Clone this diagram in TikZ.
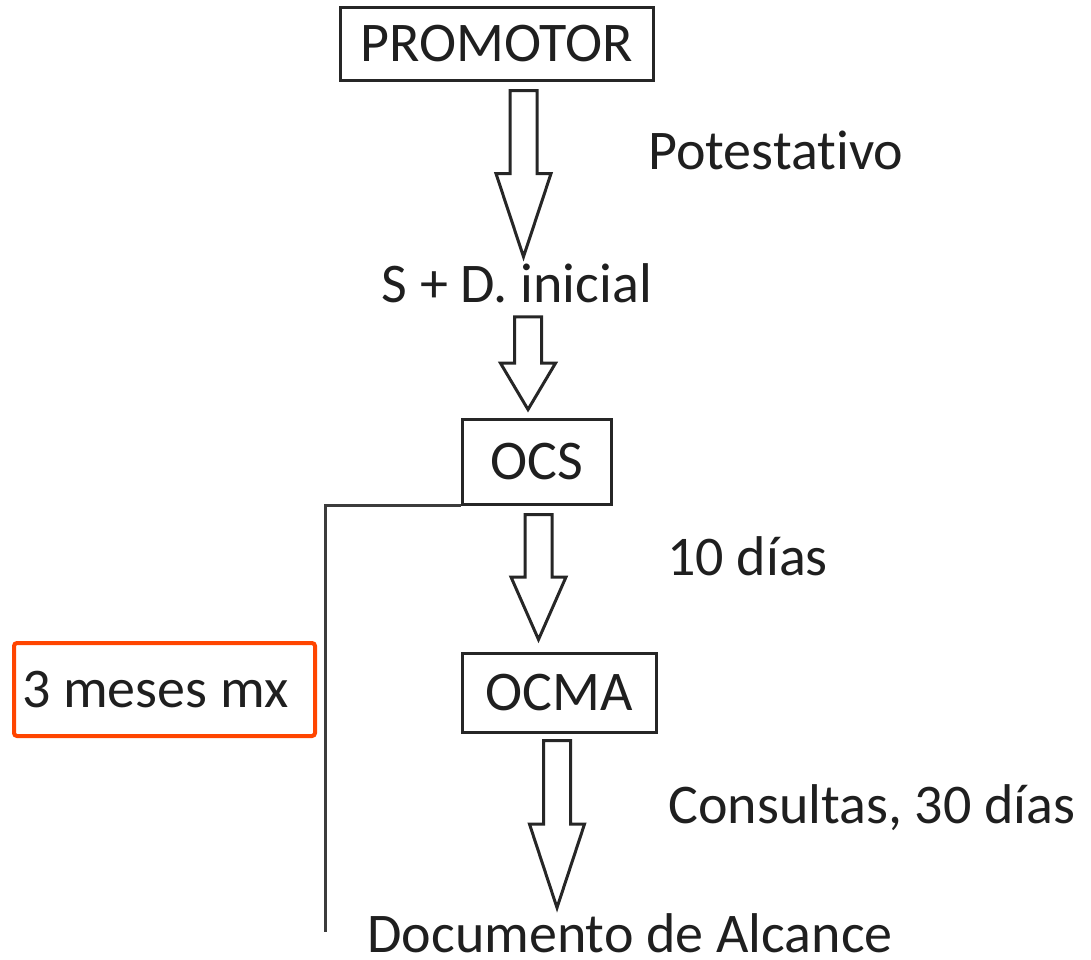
\documentclass[tikz,border=0pt]{standalone}
\usepackage{fontspec}
\setmainfont{Carlito}[Ligatures=NoCommon]
\usetikzlibrary{calc,positioning}
\definecolor{ink}{HTML}{1F1F1F}
\definecolor{frame}{HTML}{262626}
\definecolor{alert}{HTML}{FF4500}
\tikzset{
  stage/.style={draw=frame,line width=1.5pt,inner sep=0pt,font=\fontsize{28}{34}\selectfont,text=ink},
  note/.style={inner sep=0pt,font=\fontsize{28}{34}\selectfont,text=ink},
  limit/.style={draw=alert,line width=2pt,rounded corners=1.5pt,inner xsep=4pt,inner ysep=0pt,font=\fontsize{28}{34}\selectfont,text=ink},
  timeline/.style={draw=frame!90,line width=1.5pt},
  fatarrow/.style={draw=frame,line width=1.5pt,line join=miter,fill=white,
    to path={let \p1=(\tikztostart), \p2=(\tikztotarget),
      \p3=($(\tikztostart)!0.5!(\tikztotarget)$) in
      (\x1-6.75pt,\y1) -- (\x1-6.75pt,\y3) -- (\x1-13.75pt,\y3) -- (\x1,\y2)
      -- (\x1+13.75pt,\y3) -- (\x1+6.75pt,\y3) -- (\x1+6.75pt,\y1) -- cycle}}
}

\begin{document}
\begin{tikzpicture}[x=0.5pt,y=-0.5pt]
    \useasboundingbox (0,0) rectangle (1091,959);

    % steps
    \node[stage,minimum width=156.5pt,minimum height=36.5pt] (promotor) at (496.5,43.5) {PROMOTOR};
    \node[note,anchor=base] (sdini) at (517,302) {S + D. inicial};
    \node[stage,minimum width=74.5pt,minimum height=42.5pt] (ocs) at (536.5,461.5) {OCS};
    \node[stage,minimum width=97pt,minimum height=39.5pt] (ocma) at (559,692.5) {OCMA};
    \node[note,anchor=base] (docu) at (630,952) {Documento de Alcance};

    % side notes
    \node[note,anchor=base west] (pot) at (648,169) {Potestativo};
    \node[note,anchor=base west] (diez) at (667,575) {10 días};
    \node[note,anchor=base west] (consul) at (668,823) {Consultas, 30 días};
    \node[limit,anchor=west,minimum height=46.5pt] (plazo) at (12,689.5) {\makebox[142.5pt][l]{3 meses mx}};

    \draw[fatarrow] ([xshift=13.5pt,yshift=-4.5pt]promotor.south) to ([yshift=3pt]sdini.north);
    \draw[fatarrow] ([xshift=5.5pt,yshift=-7pt]sdini.south) to ([yshift=4pt]ocs.north);
    \draw[fatarrow] ([xshift=1pt,yshift=-4.5pt]ocs.south) to ([yshift=6pt]ocma.north);
    \draw[fatarrow] ([xshift=-1pt,yshift=-3.5pt]ocma.south) to ([yshift=2.5pt]docu.north);

    \coordinate (tlend) at (325,932);
    \draw[timeline] (ocs.south west) -| (tlend);
  \end{tikzpicture}
\end{document}
